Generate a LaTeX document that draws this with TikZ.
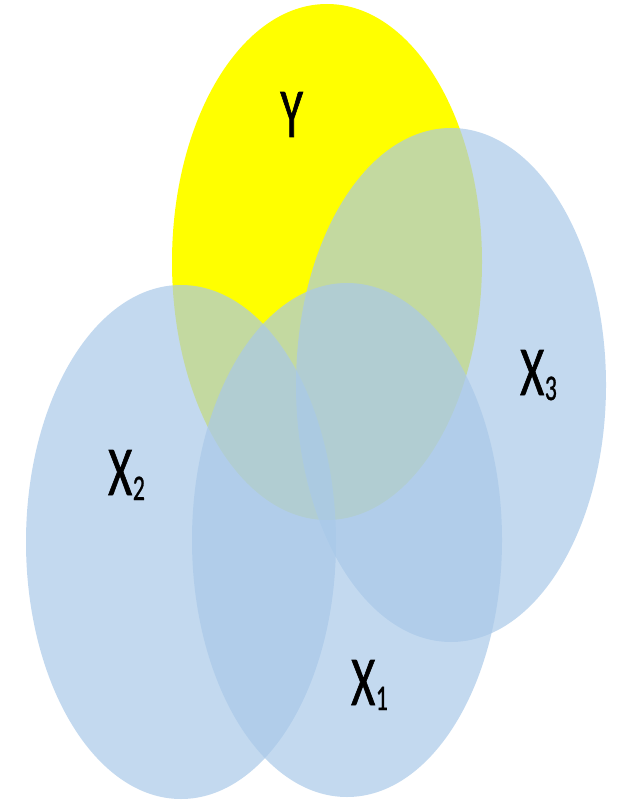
\documentclass[tikz,border=0pt]{standalone}
\usepackage{fontspec}
\setmainfont{Carlito}
\newfontfamily\labfont[FakeBold=1.2]{Carlito}
\definecolor{ycol}{RGB}{255,255,0}
\definecolor{xcol}{RGB}{169,201,233}
\newcommand{\biglab}[2]{\scalebox{0.66}[1]{\labfont\fontsize{70}{70}\selectfont #1\kern1pt\raisebox{-5pt}{\fontsize{36}{36}\selectfont #2}}}
\begin{document}
\begin{tikzpicture}[x=1pt,y=-1pt,
  yset/.style={fill=ycol},
  xset/.style={fill=xcol,fill opacity=0.69},
  lab/.style={inner sep=0pt,anchor=base}]
\useasboundingbox (0,0) rectangle (623,802);
\fill[white] (0,0) rectangle (623,802);
\path[yset] (327,262) ellipse [x radius=155, y radius=258];
\path[xset] (451,385) ellipse [x radius=155, y radius=257];
\path[xset] (181,542) ellipse [x radius=155, y radius=257];
\path[xset] (347,540) ellipse [x radius=155, y radius=257];
\node[lab] (ylab) at (292,137) {\biglab{Y}{}};
\node[lab,anchor=base west] (x2lab) at (108,495) {\biglab{X}{2}};
\node[lab,anchor=base west] (x3lab) at (520,395) {\biglab{X}{3}};
\node[lab,anchor=base west] (x1lab) at (351,705) {\biglab{X}{1}};
\end{tikzpicture}
\end{document}
